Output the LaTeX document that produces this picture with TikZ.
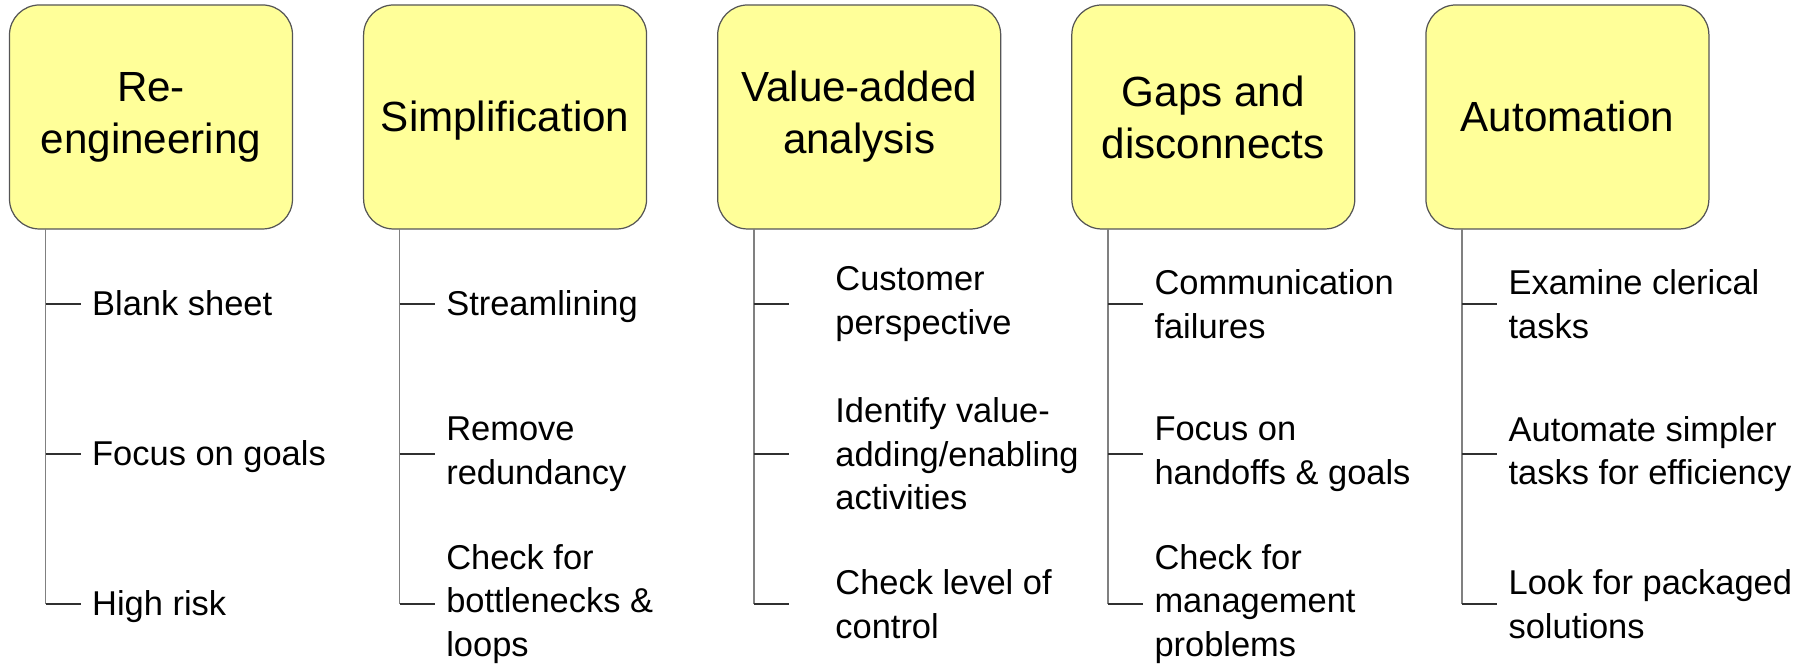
\documentclass[tikz,border=0pt]{standalone}
\usepackage{fontspec}
\setmainfont{Liberation Sans}
\usetikzlibrary{positioning}

\definecolor{headfill}{HTML}{FFFF99}
\definecolor{headline}{HTML}{555555}
\definecolor{trunkgray}{HTML}{808080}
\definecolor{branchgray}{HTML}{303030}

\tikzset{
  head/.style={draw=headline, fill=headfill, line width=0.35pt, rounded corners=0.3cm,
    minimum width=2.83cm, minimum height=2.24cm, align=center,
    font=\fontsize{12}{14.8}\selectfont},
  onehead/.style={head, text height=10.8pt, text depth=2.4pt},
  item/.style={anchor=west, align=left, inner xsep=0.11cm, inner ysep=0pt,
    font=\fontsize{9.8}{12.4}\selectfont},
  oneitem/.style={item, text height=8.8pt, text depth=2pt},
  inditem/.style={item, inner xsep=0.46cm},
  trunk/.style={draw=trunkgray, line width=0.45pt},
  branch/.style={draw=branchgray, line width=0.3pt}
}

\begin{document}
\begin{tikzpicture}
  \useasboundingbox (0,0) rectangle (18.16,6.68);

    % --------------------------------------------------------- %
    % ------------- headings
    % --------------------------------------------------------- %
    \node[head] (reeng) at (1.51,5.51) {Re-\\engineering};
    \node[onehead] (simpl) at (5.051,5.51) {Simplification};
    \node[head] (value) at (8.592,5.51) {Value-added\\analysis};
    \node[head] (gaps) at (12.133,5.51) {Gaps and\\disconnects};
    \node[onehead] (autom) at (15.674,5.51) {Automation};

    % --------------------------------------------------------- %
    % ------------- Re-engineering
    % --------------------------------------------------------- %
    \coordinate (reengT) at (0.455,4.39);
    \node[oneitem] (reeng1) at (0.805,3.64) {Blank sheet};
    \node[oneitem] (reeng2) at (0.805,2.14) {Focus on goals};
    \node[oneitem] (reeng3) at (0.805,0.64) {High risk};
    \draw[trunk] (reengT) -- (reengT |- reeng3.west);
    \draw[branch] (reengT |- reeng1.west) -- (reeng1.west);
    \draw[branch] (reengT |- reeng2.west) -- (reeng2.west);
    \draw[branch] (reengT |- reeng3.west) -- (reeng3.west);

    % --------------------------------------------------------- %
    % ------------- Simplification
    % --------------------------------------------------------- %
    \coordinate (simplT) at (3.996,4.39);
    \node[oneitem] (simpl1) at (4.346,3.64) {Streamlining};
    \node[item] (simpl2) at (4.346,2.14) {Remove\\redundancy};
    \node[item] (simpl3) at (4.346,0.64) {Check for\\bottlenecks \&\\loops};
    \draw[trunk] (simplT) -- (simplT |- simpl3.west);
    \draw[branch] (simplT |- simpl1.west) -- (simpl1.west);
    \draw[branch] (simplT |- simpl2.west) -- (simpl2.west);
    \draw[branch] (simplT |- simpl3.west) -- (simpl3.west);

    % --------------------------------------------------------- %
    % ------------- Value-added analysis
    % --------------------------------------------------------- %
    \coordinate (valueT) at (7.537,4.39);
    \node[inditem] (value1) at (7.887,3.64) {Customer\\perspective};
    \node[inditem] (value2) at (7.887,2.14) {Identify value-\\adding/enabling\\activities};
    \node[inditem] (value3) at (7.887,0.64) {Check level of\\control};
    \draw[trunk] (valueT) -- (valueT |- value3.west);
    \draw[branch] (valueT |- value1.west) -- (value1.west);
    \draw[branch] (valueT |- value2.west) -- (value2.west);
    \draw[branch] (valueT |- value3.west) -- (value3.west);

    % --------------------------------------------------------- %
    % ------------- Gaps and disconnects
    % --------------------------------------------------------- %
    \coordinate (gapsT) at (11.078,4.39);
    \node[item] (gaps1) at (11.428,3.64) {Communication\\failures};
    \node[item] (gaps2) at (11.428,2.14) {Focus on\\handoffs \& goals};
    \node[item] (gaps3) at (11.428,0.64) {Check for\\management\\problems};
    \draw[trunk] (gapsT) -- (gapsT |- gaps3.west);
    \draw[branch] (gapsT |- gaps1.west) -- (gaps1.west);
    \draw[branch] (gapsT |- gaps2.west) -- (gaps2.west);
    \draw[branch] (gapsT |- gaps3.west) -- (gaps3.west);

    % --------------------------------------------------------- %
    % ------------- Automation
    % --------------------------------------------------------- %
    \coordinate (automT) at (14.619,4.39);
    \node[item] (autom1) at (14.969,3.64) {Examine clerical\\tasks};
    \node[item] (autom2) at (14.969,2.14) {Automate simpler\\tasks for efficiency};
    \node[item] (autom3) at (14.969,0.64) {Look for packaged\\solutions};
    \draw[trunk] (automT) -- (automT |- autom3.west);
    \draw[branch] (automT |- autom1.west) -- (autom1.west);
    \draw[branch] (automT |- autom2.west) -- (autom2.west);
    \draw[branch] (automT |- autom3.west) -- (autom3.west);

\end{tikzpicture}
\end{document}
